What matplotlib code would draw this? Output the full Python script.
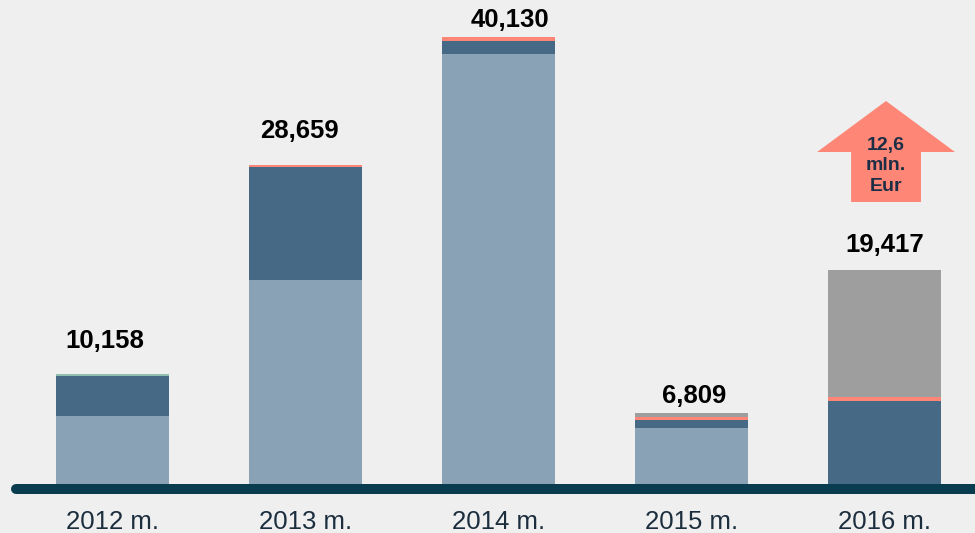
import matplotlib.pyplot as plt
from matplotlib.patches import Polygon

plt.rcParams['font.family'] = ['Liberation Sans', 'DejaVu Sans']

years = ['2012 m.', '2013 m.', '2014 m.', '2015 m.', '2016 m.']
totals = ['10,158', '28,659', '40,130', '6,809', '19,417']

# stacked segments, bottom to top
light = [6180, 18363, 38607, 5106, 0]
dark = [3583, 10122, 1165, 744, 7524]
salmon = [0, 174, 358, 224, 358]
teal = [220, 0, 0, 0, 0]
grey = [0, 0, 0, 400, 11376]

bg = '#efefef'
fig = plt.figure(figsize=(9.75, 5.33), dpi=100, facecolor=bg)
ax = fig.add_axes([0, 0, 1, 1])
ax.set_facecolor(bg)

x = list(range(len(years)))
w = 0.585
bottom = [0] * len(years)
for vals, col in [(light, '#8aa2b5'), (dark, '#466a86'), (salmon, '#fd8676'),
                  (teal, '#8fbfb0'), (grey, '#9e9e9e')]:
    ax.bar(x, vals, w, bottom=bottom, color=col, linewidth=0)
    bottom = [b + v for b, v in zip(bottom, vals)]

# value labels above bars (pixel gaps)
px = 0.011164  # pixels per unit
gaps = [33, 34, 17, 17, 25]
shift = [-0.04, -0.03, 0.06, 0.015, 0.0]
for i, t in enumerate(totals):
    ax.text(i + shift[i], bottom[i] + gaps[i] / px, t, ha='center', va='center',
            fontsize=18.5, fontweight='bold', color='black')

# baseline
ax.plot([-0.5, 5], [-358, -358], color='#0a3c50', linewidth=7.2,
        solid_capstyle='round', zorder=3)

for i, y in enumerate(years):
    ax.text(i, -3300, y, ha='center', va='center', fontsize=18.5, color='#1c2e3e')

# up arrow over 2016
cx = 4.008
tip, base, foot = 34397, 29828, 25350
hw, sw = 0.357, 0.181
arrow = Polygon([(cx, tip), (cx + hw, base), (cx + sw, base), (cx + sw, foot),
                 (cx - sw, foot), (cx - sw, base), (cx - hw, base)],
                closed=True, facecolor='#fd8676', edgecolor='none')
ax.add_patch(arrow)
ax.text(cx, 28574, '12,6\nmln.\nEur', ha='center', va='center', fontsize=14,
        fontweight='bold', color='#1c2e45', linespacing=1.3)

ax.set_xlim(-0.583, 4.469)
ax.set_ylim(-4300, 43443)
ax.axis('off')

fig.savefig('out.png', dpi=100, facecolor=bg)
